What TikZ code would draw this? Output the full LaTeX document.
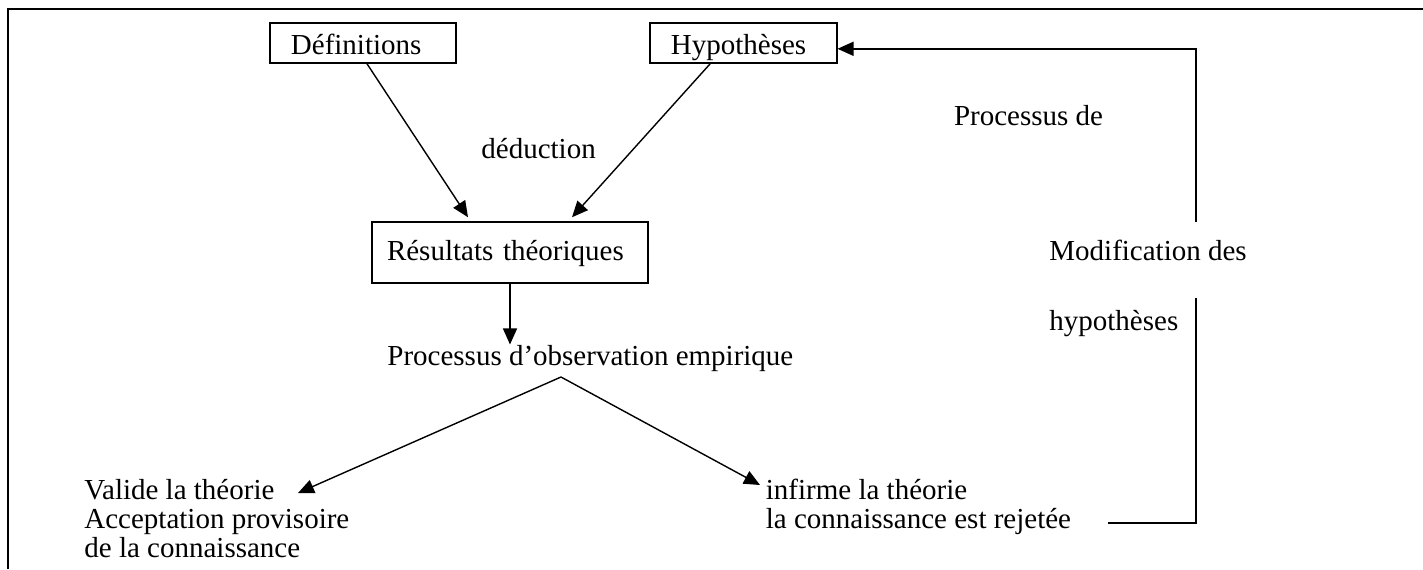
\documentclass[tikz,border=0pt]{standalone}
\usepackage{fontspec}
\setmainfont{Liberation Serif}
\usetikzlibrary{arrows.meta,positioning,calc}

\begin{document}
\begin{tikzpicture}[x=0.5pt, y=-0.5pt,
    every node/.style={font=\fontsize{14.5pt}{14.5pt}\selectfont},
    boite/.style={rectangle, draw, line width=0.75pt, minimum height=20pt, inner ysep=0pt,
        inner xsep=10.5pt, align=left, text height=14pt, text depth=2.5pt},
    texte/.style={inner sep=0pt, anchor=base west},
    fleche/.style={-{Triangle[length=8pt, width=7pt]}, line width=0.7pt}]
    \useasboundingbox (0,0) rectangle (1423,569);
    \draw[line width=1pt] (8,569) -- (8,9.3) -- (1423,9.3);

    \node[boite, text width=71.9pt] (def) at (362.85,42.8) {Définitions};
    \node[boite, text width=72.4pt] (hyp) at (743.35,42.8) {Hypothèses};
    \node[boite, text width=123pt, inner xsep=7.5pt, minimum height=30.5pt,
        text height=12pt, text depth=3.8pt] (res) at (510,252.5) {Résultats théoriques};
    \node[texte] (deduc) at (481,158) {déduction};
    \node[texte] (obs) at (387,365) {Processus d’observation empirique};
    \node[texte, anchor=north west, align=left] (valide) at (84,479) {Valide la théorie\\Acceptation provisoire\\de la connaissance};
    \node[texte, anchor=north west, align=left] (infirme) at (765.5,479) {infirme la théorie\\la connaissance est rejetée};
    \node[texte] (proc) at (953.6,125) {Processus de};
    \node[texte] (modif) at (1049,260) {Modification des};
    \node[texte] (hypos) at (1049,330) {hypothèses};

    \coordinate (sommet) at (561,377);
    \coordinate (pointeV) at (298,493);
    \coordinate (pointeI) at (760,485);
    \coordinate (depart) at (1108,523);
    \coordinate (arret) at (1196,298);
    \coordinate (reprise) at (1196,222);

    \draw[fleche] ([xshift=2pt]def.south) -- ([xshift=-21pt, yshift=2pt]res.north);
    \draw[fleche] ([xshift=-16.5pt]hyp.south) -- ([xshift=31pt, yshift=2pt]res.north);
    \draw[fleche] (res.south) -- (res.south |- obs.north);
    \draw[fleche] (sommet) -- (pointeV);
    \draw[fleche] (sommet) -- (pointeI);
    \draw[line width=0.75pt] (depart) -| (arret);
    \draw[fleche] (reprise) |- ([yshift=-3pt]hyp.east);
\end{tikzpicture}
\end{document}
